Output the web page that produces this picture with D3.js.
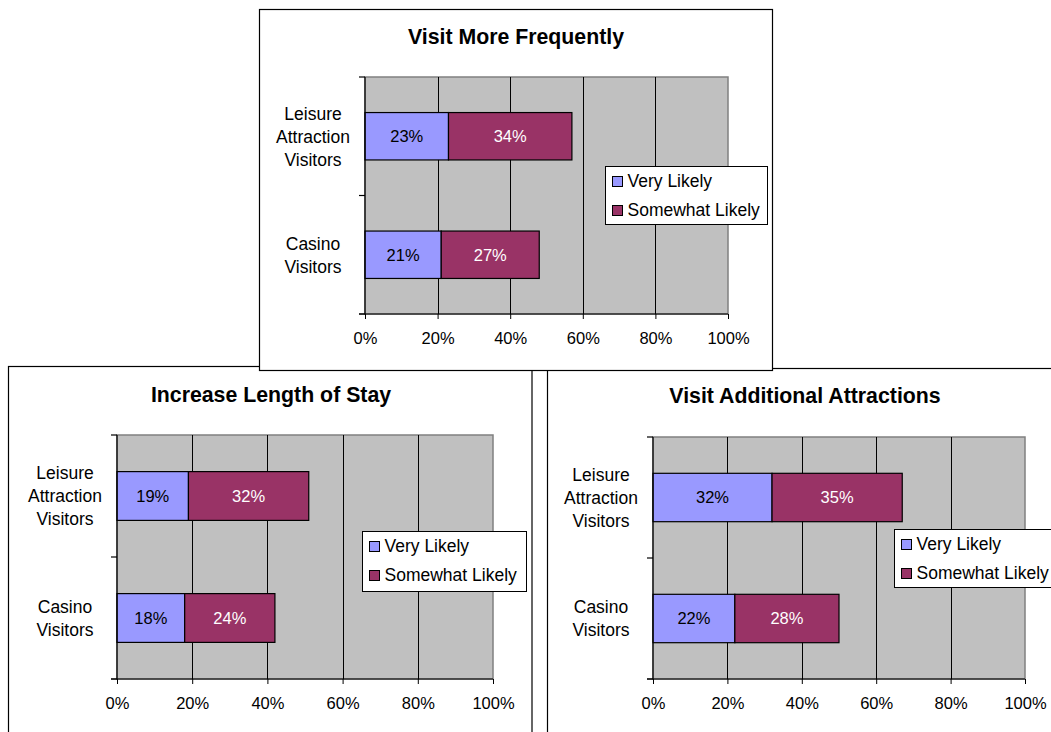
<!DOCTYPE html>
<html>
<head>
<meta charset="utf-8">
<script src="https://cdn.jsdelivr.net/npm/d3@7"></script>
<style>
  html, body { margin: 0; padding: 0; background: #fff; }
  svg { display: block; font-family: "Liberation Sans", Arial, sans-serif; }
</style>
</head>
<body>
<svg id="chart" width="1051" height="732"></svg>
<script>
// Survey results: likelihood of behaviour change, by visitor type
const categories = ["Leisure Attraction Visitors", "Casino Visitors"];
const seriesNames = ["Very Likely", "Somewhat Likely"];
const seriesColors = ["#9999FF", "#993366"];
const labelColors = ["#000", "#fff"];
const tickValues = [0, 20, 40, 60, 80, 100];

const titles = ["Increase Length of Stay", "Visit Additional Attractions", "Visit More Frequently"];

const lengthOfStayVery = [19, 18];
const lengthOfStaySomewhat = [32, 24];
const additionalVery = [32, 22];
const additionalSomewhat = [35, 28];
const frequentlyVery = [23, 21];
const frequentlySomewhat = [34, 27];

// Panel geometry (drawn in this order, the last one overlaps the others)
const panels = [
  { title: titles[0], very: lengthOfStayVery, somewhat: lengthOfStaySomewhat,
    frame: { x: 8.5, y: 366.5, w: 523.5, h: 420 },
    plot: { x: 117, y: 435, w: 376, h: 244 },
    titleX: 271, titleY: 394,
    legend: { x: 362.5, y: 531.5, w: 164, h: 60 } },
  { title: titles[1], very: additionalVery, somewhat: additionalSomewhat,
    frame: { x: 547.5, y: 368.5, w: 520, h: 420 },
    plot: { x: 653, y: 437, w: 372, h: 242 },
    titleX: 805, titleY: 395,
    legend: { x: 894.5, y: 529.5, w: 164, h: 58 } },
  { title: titles[2], very: frequentlyVery, somewhat: frequentlySomewhat,
    frame: { x: 259.5, y: 9.5, w: 513, h: 361 },
    plot: { x: 365, y: 77, w: 363, h: 237 },
    titleX: 516, titleY: 36,
    legend: { x: 605.5, y: 166.5, w: 162, h: 58 } }
];

const svg = d3.select("#chart");

panels.forEach(p => {
  const g = svg.append("g");

  // chart frame
  g.append("rect")
    .attr("x", p.frame.x).attr("y", p.frame.y)
    .attr("width", p.frame.w).attr("height", p.frame.h)
    .attr("fill", "#fff").attr("stroke", "#000").attr("stroke-width", 1.2);

  g.append("text")
    .attr("x", p.titleX).attr("y", p.titleY).attr("dy", "0.36em")
    .attr("text-anchor", "middle")
    .attr("font-size", 21.3).attr("font-weight", "bold")
    .text(p.title);

  const x = d3.scaleLinear().domain([0, 100]).range([p.plot.x, p.plot.x + p.plot.w]);
  const y = d3.scaleBand().domain(categories)
    .range([p.plot.y, p.plot.y + p.plot.h])
    .paddingInner(0.6).paddingOuter(0.3);

  // plot area
  g.append("rect")
    .attr("x", p.plot.x).attr("y", p.plot.y)
    .attr("width", p.plot.w).attr("height", p.plot.h)
    .attr("fill", "#C0C0C0").attr("stroke", "#808080").attr("stroke-width", 1.5);

  // vertical gridlines
  g.selectAll(".grid")
    .data(tickValues.filter(t => t > 0 && t < 100))
    .join("line")
    .attr("x1", d => Math.round(x(d)) + 0.5).attr("x2", d => Math.round(x(d)) + 0.5)
    .attr("y1", p.plot.y).attr("y2", p.plot.y + p.plot.h)
    .attr("stroke", "#000").attr("stroke-width", 1);

  // stacked bars
  const stacked = categories.map((c, i) => {
    const vals = [p.very[i], p.somewhat[i]];
    let acc = 0;
    return vals.map((v, s) => {
      const seg = { cat: c, s, v, x0: acc, x1: acc + v };
      acc += v;
      return seg;
    });
  }).flat();

  g.selectAll(".bar")
    .data(stacked)
    .join("rect")
    .attr("x", d => x(d.x0))
    .attr("y", d => y(d.cat))
    .attr("width", d => x(d.x1) - x(d.x0))
    .attr("height", y.bandwidth())
    .attr("fill", d => seriesColors[d.s])
    .attr("stroke", "#000").attr("stroke-width", 1.2);

  g.selectAll(".val")
    .data(stacked)
    .join("text")
    .attr("x", d => (x(d.x0) + x(d.x1)) / 2)
    .attr("y", d => y(d.cat) + y.bandwidth() / 2)
    .attr("dy", "0.36em")
    .attr("text-anchor", "middle")
    .attr("font-size", 16.5)
    .attr("fill", d => labelColors[d.s])
    .text(d => d.v + "%");

  // x axis
  const xAxis = d3.axisBottom(x)
    .tickValues(tickValues)
    .tickFormat(d => d + "%")
    .tickSize(5).tickPadding(13);
  const xg = g.append("g")
    .attr("transform", `translate(0,${p.plot.y + p.plot.h})`)
    .call(xAxis);
  xg.select(".domain").remove();
  xg.selectAll(".tick line").attr("stroke", "#000");
  xg.selectAll(".tick text")
    .attr("font-family", "'Liberation Sans', Arial, sans-serif")
    .attr("font-size", 16.5).attr("fill", "#000");

  // axis lines
  g.append("line")
    .attr("x1", p.plot.x - 6).attr("x2", p.plot.x + p.plot.w)
    .attr("y1", p.plot.y + p.plot.h).attr("y2", p.plot.y + p.plot.h)
    .attr("stroke", "#000").attr("stroke-width", 1.2);
  g.append("line")
    .attr("x1", p.plot.x).attr("x2", p.plot.x)
    .attr("y1", p.plot.y).attr("y2", p.plot.y + p.plot.h)
    .attr("stroke", "#000").attr("stroke-width", 1.2);

  // category boundary ticks on the y axis
  const bounds = d3.range(categories.length + 1).map(i => p.plot.y + i * y.step());
  g.selectAll(".ytick")
    .data(bounds)
    .join("line")
    .attr("x1", p.plot.x - 6).attr("x2", p.plot.x)
    .attr("y1", d => d).attr("y2", d => d)
    .attr("stroke", "#000").attr("stroke-width", 1.2);

  // category labels (wrapped)
  const lineH = 23;
  categories.forEach(c => {
    const words = c.split(" ");
    const cy = y(c) + y.bandwidth() / 2;
    const t = g.append("text")
      .attr("text-anchor", "middle")
      .attr("font-size", 17.5).attr("fill", "#000");
    words.forEach((w, i) => {
      t.append("tspan")
        .attr("x", p.plot.x - 52)
        .attr("y", cy + (i - (words.length - 1) / 2) * lineH)
        .attr("dy", "0.36em")
        .text(w);
    });
  });

  // legend
  const lg = g.append("g");
  lg.append("rect")
    .attr("x", p.legend.x).attr("y", p.legend.y)
    .attr("width", p.legend.w).attr("height", p.legend.h)
    .attr("fill", "#fff").attr("stroke", "#000").attr("stroke-width", 1);
  seriesNames.forEach((name, i) => {
    const cy = p.legend.y + 14 + i * 29;
    lg.append("rect")
      .attr("x", p.legend.x + 7).attr("y", cy - 4)
      .attr("width", 10).attr("height", 10)
      .attr("fill", seriesColors[i]).attr("stroke", "#000").attr("stroke-width", 1);
    lg.append("text")
      .attr("x", p.legend.x + 22).attr("y", cy).attr("dy", "0.36em")
      .attr("font-size", 17.5).attr("fill", "#000")
      .text(name);
  });
});
</script>
</body>
</html>
